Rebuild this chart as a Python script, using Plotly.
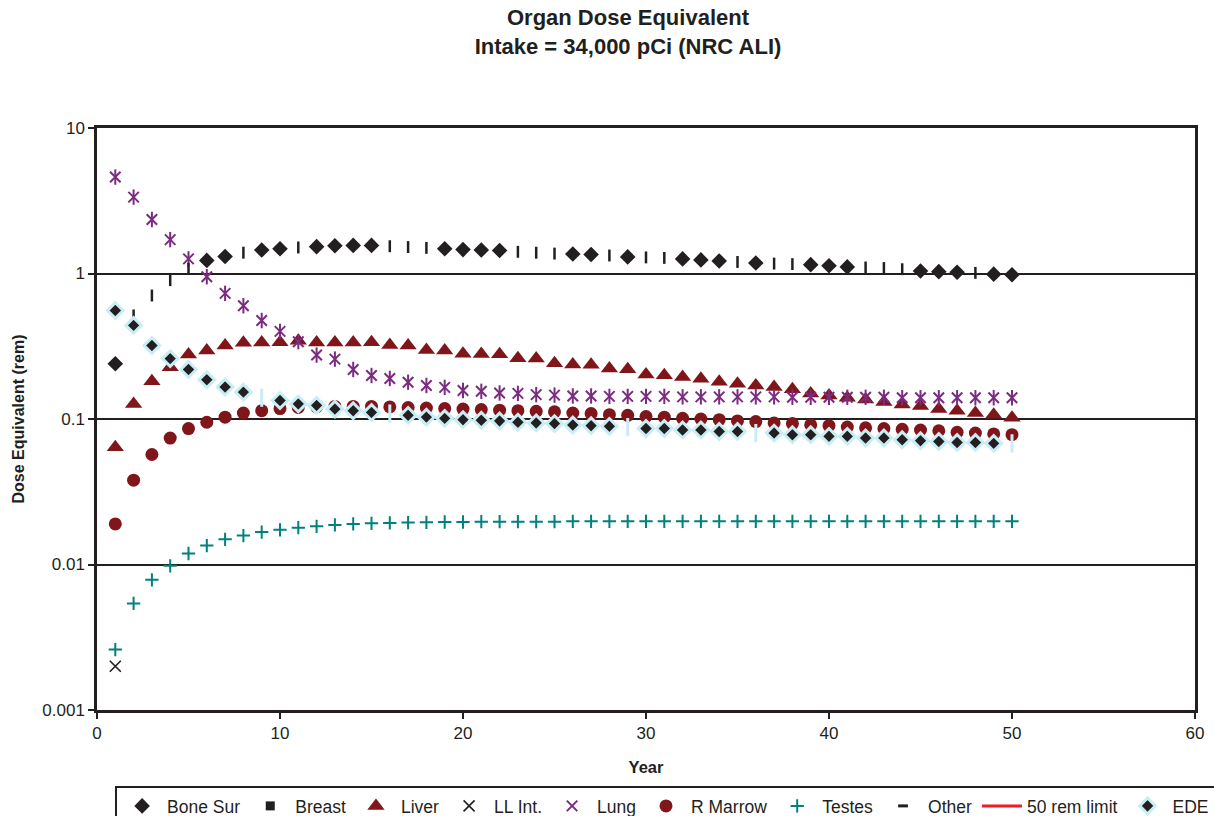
import plotly.graph_objects as go

# ---------------- data ----------------
years = list(range(1, 51))

bone_sur = [0.24, None, None, None, None, 1.23, 1.31, None, 1.45, 1.48,
            None, 1.53, 1.55, 1.56, 1.56, None, None, None, 1.48, 1.46,
            1.45, 1.44, None, None, None, 1.36, 1.35, None, 1.30, None,
            None, 1.26, 1.24, 1.22, None, 1.18, None, None, 1.15, 1.13,
            1.11, None, None, None, 1.04, 1.03, 1.02, None, 0.99, 0.98]

breast = [None] * 50

liver = [0.064, 0.127, 0.182, 0.227, 0.277, 0.296, 0.320, 0.334, 0.336, 0.337,
         0.345, 0.335, 0.335, 0.335, 0.337, 0.322, 0.320, 0.298, 0.296, 0.281,
         0.280, 0.279, 0.262, 0.260, 0.242, 0.237, 0.236, 0.222, 0.220, 0.202,
         0.200, 0.194, 0.189, 0.180, 0.175, 0.170, 0.166, 0.160, 0.150, 0.145,
         0.140, 0.136, 0.131, 0.126, 0.123, 0.117, 0.114, 0.110, 0.107, 0.102]

ll_int = [0.002] + [None] * 49

lung = [4.60, 3.35, 2.35, 1.71, 1.26, 0.95, 0.73, 0.60, 0.475, 0.40,
        0.34, 0.275, 0.258, 0.219, 0.199, 0.190, 0.179, 0.170, 0.165, 0.157,
        0.155, 0.151, 0.150, 0.147, 0.146, 0.144, 0.144, 0.143, 0.143, 0.143,
        0.143, 0.142, 0.142, 0.142, 0.142, 0.142, 0.142, 0.141, 0.141, 0.141,
        0.141, 0.141, 0.141, 0.140, 0.140, 0.140, 0.140, 0.140, 0.140, 0.140]

r_marrow = [0.019, 0.038, 0.057, 0.074, 0.086, 0.095, 0.103, 0.110, 0.114, 0.118,
            0.120, 0.121, 0.122, 0.122, 0.122, 0.121, 0.120, 0.119, 0.118, 0.117,
            0.116, 0.115, 0.114, 0.113, 0.112, 0.110, 0.109, 0.107, 0.106, 0.104,
            0.103, 0.101, 0.100, 0.099, 0.097, 0.096, 0.094, 0.093, 0.091, 0.090,
            0.088, 0.087, 0.086, 0.085, 0.084, 0.083, 0.081, 0.080, 0.079, 0.078]

testes = [0.0026, 0.0054, 0.00785, 0.0098, 0.0119, 0.0135, 0.0149, 0.0158, 0.0167, 0.0173,
          0.0179, 0.0183, 0.0187, 0.0190, 0.0192, 0.0193, 0.0194, 0.0195, 0.0196, 0.0196,
          0.0197, 0.0197, 0.0197, 0.0197, 0.0197, 0.0198, 0.0198, 0.0198, 0.0198, 0.0198,
          0.0198, 0.0198, 0.0198, 0.0198, 0.0198, 0.0198, 0.0198, 0.0198, 0.0198, 0.0198,
          0.0198, 0.0198, 0.0198, 0.0198, 0.0198, 0.0198, 0.0198, 0.0198, 0.0198, 0.0198]

other = [0.24, 0.515, 0.706, 0.90, 1.077, 1.23, 1.31, 1.39, 1.45, 1.48,
         1.51, 1.53, 1.55, 1.56, 1.56, 1.54, 1.52, 1.50, 1.48, 1.46,
         1.45, 1.44, 1.41, 1.39, 1.37, 1.36, 1.35, 1.33, 1.30, 1.29,
         1.28, 1.26, 1.24, 1.22, 1.20, 1.18, 1.17, 1.16, 1.15, 1.13,
         1.11, 1.10, 1.09, 1.07, 1.04, 1.03, 1.02, 1.01, 0.99, 0.98]

rem_limit = 50

ede = [0.557, 0.440, 0.320, 0.260, 0.219, 0.186, 0.166, 0.153, 0.140, 0.134,
       0.127, 0.124, 0.117, 0.114, 0.111, 0.109, 0.106, 0.103, 0.101, 0.099,
       0.098, 0.097, 0.095, 0.094, 0.093, 0.091, 0.090, 0.089, 0.088, 0.086,
       0.086, 0.084, 0.084, 0.082, 0.082, 0.080, 0.080, 0.078, 0.078, 0.076,
       0.076, 0.074, 0.074, 0.072, 0.071, 0.070, 0.069, 0.069, 0.068, 0.068]

# years where the EDE point is rendered as a light-blue dash (style only)
ede_dash_years = [9, 16, 29, 36, 50]

x_ticks = [0, 10, 20, 30, 40, 50, 60]
y_ticks = [0.001, 0.01, 0.1, 1, 10]
y_ticktext = ["0.001", "0.01", "0.1", "1", "10"]

# ---------------- styles ----------------
BLACK = "#231f20"
DARKRED = "#80161a"
PURPLE = "#7b2b80"
TEAL = "#00807e"
RED = "#ee1c25"
LIGHTBLUE = "#c9edf5"
FONT = "Liberation Sans, Arial, sans-serif"

fig = go.Figure()

fig.add_trace(go.Scatter(x=years, y=bone_sur, mode="markers", name="Bone Sur",
                         marker=dict(symbol="diamond", size=12, color=BLACK, opacity=1)))
fig.add_trace(go.Scatter(x=years, y=breast, mode="markers", name="Breast",
                         marker=dict(symbol="square", size=9, color=BLACK, opacity=1)))
fig.add_trace(go.Scatter(x=years, y=liver, mode="markers", name="Liver",
                         marker=dict(symbol="triangle-up", size=15, color=DARKRED, opacity=1)))
fig.add_trace(go.Scatter(x=years, y=ll_int, mode="markers", name="LL Int.",
                         marker=dict(symbol="x-thin-open", size=11, color=BLACK, opacity=1,
                                     line=dict(width=1.6))))
fig.add_trace(go.Scatter(x=years, y=lung, mode="markers", name="Lung",
                         legendgroup="lung",
                         marker=dict(symbol="x-thin-open", size=10.5, color=PURPLE, opacity=1,
                                     line=dict(width=2))))
fig.add_trace(go.Scatter(x=years, y=lung, mode="markers", name="Lung",
                         legendgroup="lung", showlegend=False, hoverinfo="skip",
                         marker=dict(symbol="line-ns-open", size=11, color=PURPLE, opacity=1,
                                     line=dict(width=2))))
fig.add_trace(go.Scatter(x=years, y=r_marrow, mode="markers", name="R Marrow",
                         marker=dict(symbol="circle", size=13, color=DARKRED, opacity=1)))
fig.add_trace(go.Scatter(x=years, y=testes, mode="markers", name="Testes",
                         marker=dict(symbol="cross-thin-open", size=9.5, color=TEAL, opacity=1,
                                     line=dict(width=2))))
fig.add_trace(go.Scatter(x=years, y=other, mode="markers", name="Other",
                         legendgroup="other", showlegend=False,
                         marker=dict(symbol="line-ns-open", size=8.5, color=BLACK, opacity=1,
                                     line=dict(width=2.5))))
fig.add_trace(go.Scatter(x=[None], y=[None], mode="markers", name="Other",
                         legendgroup="other",
                         marker=dict(symbol="line-ew-open", size=7, color=BLACK, opacity=1,
                                     line=dict(width=3))))
fig.add_trace(go.Scatter(x=[years[0], years[-1]], y=[rem_limit, rem_limit],
                         mode="lines", name="50 rem limit",
                         line=dict(color=RED, width=3)))

ede_symbols = ["line-ns-open" if yr in ede_dash_years else "diamond" for yr in years]
ede_colors = [LIGHTBLUE if yr in ede_dash_years else BLACK for yr in years]
ede_sizes = [13 if yr in ede_dash_years else 12 for yr in years]
fig.add_trace(go.Scatter(x=years, y=ede, mode="markers", name="EDE",
                         marker=dict(symbol=ede_symbols, size=ede_sizes, color=ede_colors,
                                     opacity=1,
                                     line=dict(color=LIGHTBLUE, width=3))))

fig.update_layout(
    width=1214, height=816,
    margin=dict(l=97, r=19, t=128, b=106, autoexpand=False),
    paper_bgcolor="white", plot_bgcolor="white",
    font=dict(family=FONT, color=BLACK, size=17),
    title=dict(text="<b>Organ Dose Equivalent<br>Intake = 34,000 pCi (NRC ALI)</b>",
               x=0.4836, xref="paper", xanchor="center",
               y=1 - 25 / 816, yref="container", yanchor="top",
               font=dict(size=22, family=FONT, color=BLACK)),
    showlegend=True,
    legend=dict(orientation="h", x=0.0165, xanchor="left", y=-0.1306, yanchor="top",
                bordercolor=BLACK, borderwidth=2, bgcolor="white",
                font=dict(size=17.5, family=FONT, color=BLACK),
                itemwidth=40, traceorder="normal"),
)

fig.update_xaxes(range=[0, 60], tickvals=x_ticks, showgrid=False, zeroline=False,
                 showline=True, linecolor=BLACK, linewidth=2.5, mirror=True,
                 ticks="outside", ticklen=6, tickwidth=2, tickcolor=BLACK,
                 tickfont=dict(size=17, family=FONT, color=BLACK),
                 title=dict(text="<b>Year</b>", standoff=20,
                            font=dict(size=16.5, family=FONT, color=BLACK)))

fig.update_yaxes(type="log", range=[-3, 1], tickvals=y_ticks, ticktext=y_ticktext,
                 showgrid=True, gridcolor=BLACK, gridwidth=2, zeroline=False,
                 showline=True, linecolor=BLACK, linewidth=2.5, mirror=True,
                 ticks="outside", ticklen=6, tickwidth=2, tickcolor=BLACK,
                 tickfont=dict(size=17, family=FONT, color=BLACK),
                 title=dict(text="<b>Dose Equivalent (rem)</b>", standoff=14,
                            font=dict(size=16, family=FONT, color=BLACK)))

fig.write_html("out.html")
